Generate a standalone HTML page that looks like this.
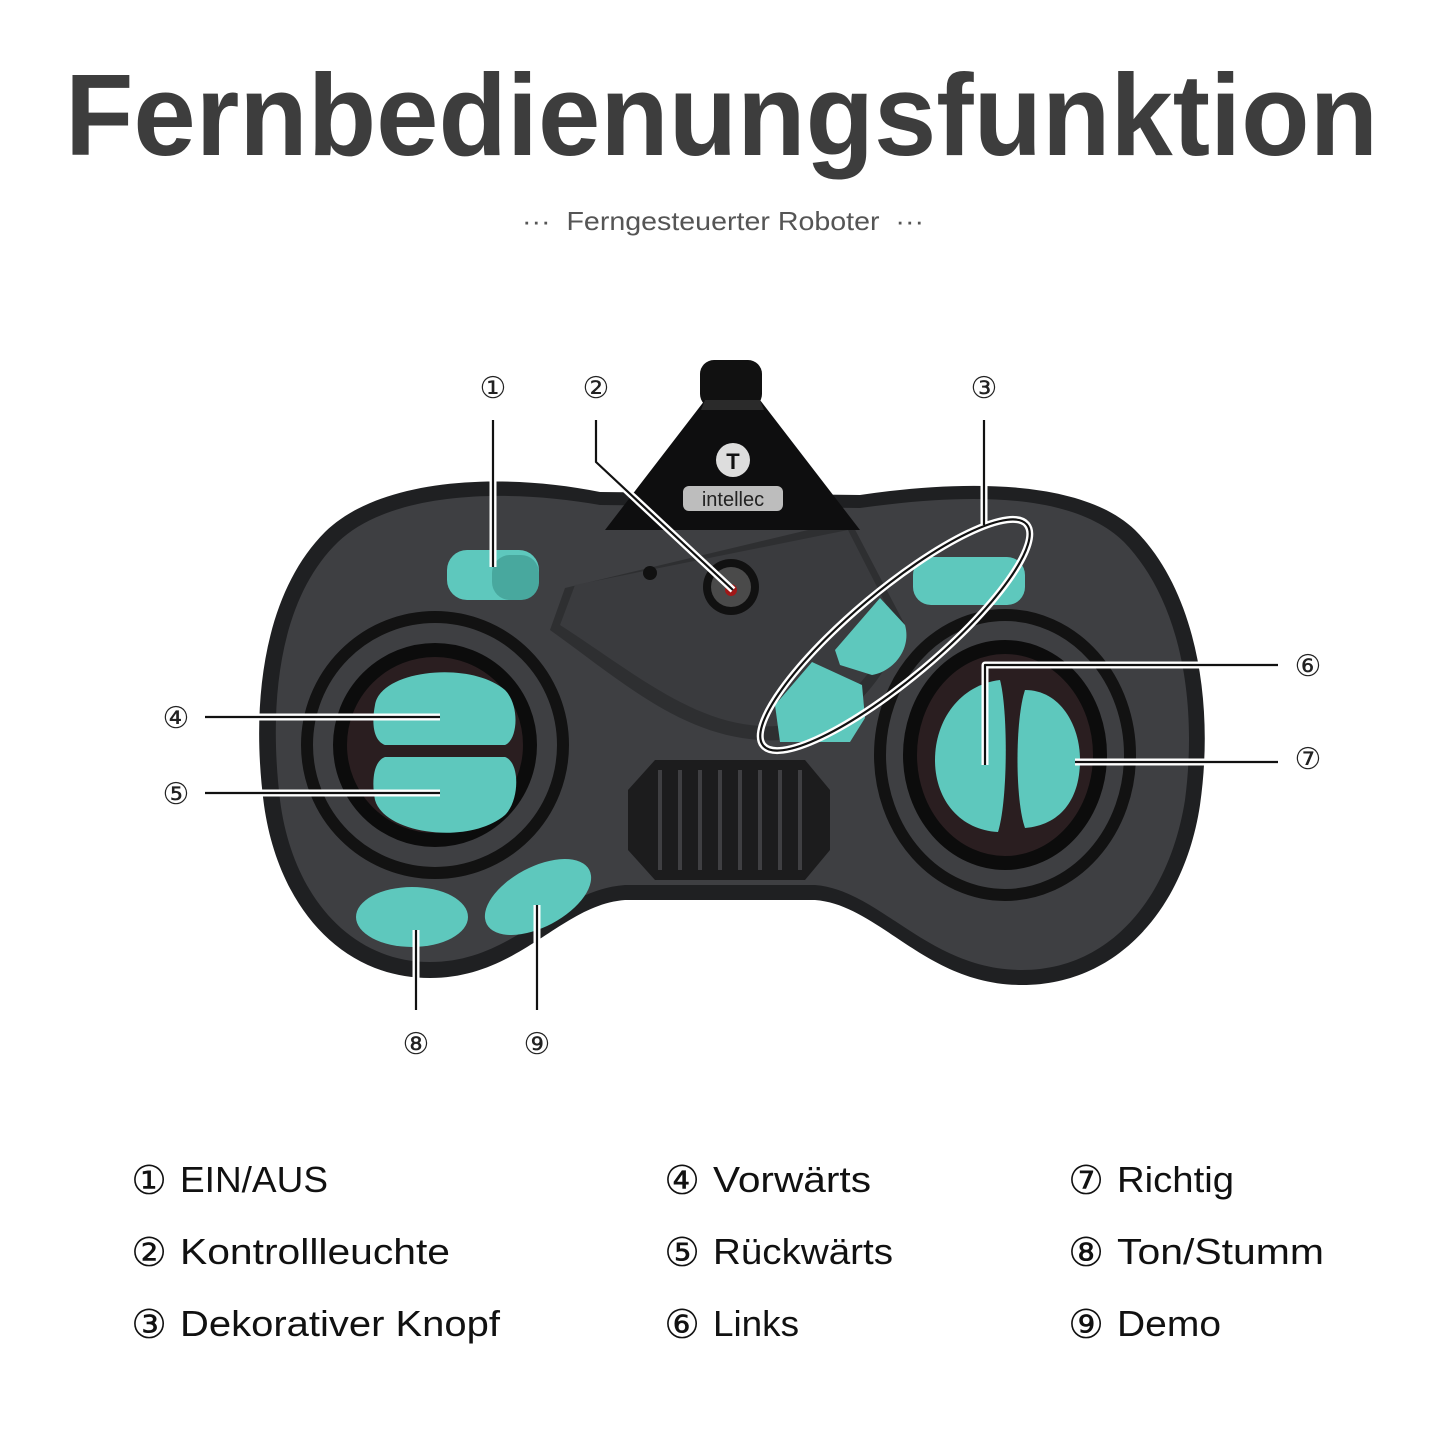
<!DOCTYPE html>
<html><head><meta charset="utf-8"><style>
html,body{margin:0;padding:0;background:#fff;width:1445px;height:1445px;overflow:hidden}
svg{display:block}
text{font-family:"Liberation Sans","DejaVu Sans",sans-serif}
</style></head><body>
<svg width="1445" height="1445" viewBox="0 0 1445 1445" xmlns="http://www.w3.org/2000/svg">
<text x="65" y="155" font-size="116" font-weight="bold" fill="#3d3d3d" textLength="1313" lengthAdjust="spacingAndGlyphs">Fernbedienungsfunktion</text>
<text x="522" y="230" font-size="26" fill="#555" textLength="402" lengthAdjust="spacingAndGlyphs">··· &#160;Ferngesteuerter Roboter &#160;···</text>

<!-- body -->
<path d="M600,492 C500,472 380,478 325,532 C265,592 250,700 264,805 C278,905 340,978 430,978 C520,978 560,905 625,900 L815,900 C880,905 925,985 1022,985 C1120,985 1185,905 1200,805 C1215,700 1195,590 1135,530 C1085,482 975,478 860,495 Z" fill="#1f2022"/>
<path d="M600,505 C505,488 390,492 338,542 C280,598 268,700 280,800 C292,895 350,962 430,962 C515,962 555,890 625,885 L815,885 C880,890 928,970 1022,970 C1112,970 1170,895 1185,800 C1198,700 1180,600 1124,542 C1075,494 975,492 860,508 Z" fill="#3e3f42"/>
<!-- center plate -->
<path d="M565,588 L850,520 L905,625 C880,700 820,745 760,740 C680,735 620,680 550,630 Z" fill="#2e2f31"/>
<path d="M575,585 L848,530 L895,622 C872,690 818,730 760,726 C690,722 630,670 560,625 Z" fill="#3a3b3e"/>
<!-- antenna -->
<rect x="700" y="360" width="62" height="48" rx="14" fill="#111"/>
<polygon points="705,400 760,400 860,530 605,530" fill="#0e0e0f"/>
<polygon points="705,400 760,400 764,410 701,410" fill="#2a2a2a"/>
<circle cx="733" cy="460" r="17" fill="#ddd"/>
<text x="733" y="469" font-size="22" font-weight="bold" fill="#111" text-anchor="middle">T</text>
<rect x="683" y="486" width="100" height="25" rx="6" fill="#bdbdbd"/>
<text x="733" y="506" font-size="20" fill="#222" text-anchor="middle">intellec</text>
<!-- LED -->
<circle cx="650" cy="573" r="7" fill="#111"/>
<circle cx="731" cy="587" r="28" fill="#111"/>
<circle cx="731" cy="587" r="20" fill="#4a4a4a"/>
<circle cx="731" cy="590" r="6" fill="#a01818"/>
<!-- left pad -->
<circle cx="435" cy="745" r="128" fill="none" stroke="#121212" stroke-width="12"/>
<circle cx="435" cy="745" r="95" fill="#2a1e20" stroke="#0c0c0c" stroke-width="14"/>
<path d="M375,705 C380,670 470,660 505,690 C520,705 518,740 505,745 L385,745 C372,740 372,720 375,705 Z" fill="#5ec8bd"/>
<path d="M385,757 L505,757 C520,762 520,800 505,815 C470,845 385,835 375,800 C372,785 372,762 385,757 Z" fill="#5ec8bd"/>
<!-- right pad -->
<ellipse cx="1005" cy="755" rx="125" ry="140" fill="none" stroke="#121212" stroke-width="12"/>
<ellipse cx="1005" cy="755" rx="95" ry="108" fill="#2a1e20" stroke="#0c0c0c" stroke-width="14"/>
<path d="M1000,680 C960,685 935,720 935,760 C935,800 960,830 998,832 C1008,800 1008,710 1000,680 Z" fill="#5ec8bd"/>
<path d="M1025,690 C1060,690 1080,725 1080,760 C1080,800 1060,825 1025,828 C1015,800 1015,720 1025,690 Z" fill="#5ec8bd"/>
<!-- small buttons -->
<rect x="447" y="550" width="92" height="50" rx="20" fill="#5ec8bd"/>
<rect x="492" y="555" width="47" height="45" rx="18" fill="#48a89e"/>
<rect x="913" y="557" width="112" height="48" rx="18" fill="#5ec8bd"/>
<path d="M835,650 L880,598 L905,625 C912,650 892,672 872,675 L840,665 Z" fill="#5ec8bd"/>
<path d="M775,705 L812,662 L862,685 L865,718 L850,742 L780,742 Z" fill="#5ec8bd"/>
<ellipse cx="412" cy="917" rx="56" ry="30" fill="#5ec8bd"/>
<ellipse cx="538" cy="897" rx="58" ry="30" fill="#5ec8bd" transform="rotate(-28 538 897)"/>
<!-- grille -->
<polygon points="655,760 805,760 830,790 830,850 805,880 655,880 628,850 628,790" fill="#1c1c1d"/>
<g stroke="#3f3f42" stroke-width="4">
<line x1="660" y1="770" x2="660" y2="870"/><line x1="680" y1="770" x2="680" y2="870"/><line x1="700" y1="770" x2="700" y2="870"/><line x1="720" y1="770" x2="720" y2="870"/><line x1="740" y1="770" x2="740" y2="870"/><line x1="760" y1="770" x2="760" y2="870"/><line x1="780" y1="770" x2="780" y2="870"/><line x1="800" y1="770" x2="800" y2="870"/>
</g>
<!-- callout lines -->
<g fill="none" stroke="#fff" stroke-width="7" stroke-linejoin="round">
<polyline points="493,420 493,567"/>
<polyline points="596,420 596,462 733,590"/>
<polyline points="984,420 984,525"/>
<ellipse cx="895" cy="635" rx="172" ry="44" transform="rotate(-40 895 635)"/>
<polyline points="205,717 440,717"/>
<polyline points="205,793 440,793"/>
<polyline points="1278,665 985,665 985,765"/>
<polyline points="1278,762 1075,762"/>
<polyline points="416,930 416,1010"/>
<polyline points="537,905 537,1010"/>
</g>
<g fill="none" stroke="#111" stroke-width="2.2" stroke-linejoin="round">
<polyline points="493,420 493,567"/>
<polyline points="596,420 596,462 733,590"/>
<polyline points="984,420 984,525"/>
<ellipse cx="895" cy="635" rx="172" ry="44" transform="rotate(-40 895 635)"/>
<polyline points="205,717 440,717"/>
<polyline points="205,793 440,793"/>
<polyline points="1278,665 985,665 985,765"/>
<polyline points="1278,762 1075,762"/>
<polyline points="416,930 416,1010"/>
<polyline points="537,905 537,1010"/>
</g>
<g font-size="30" fill="#222" text-anchor="middle" style="font-family:'DejaVu Sans',sans-serif">
<text x="493" y="398">①</text><text x="596" y="398">②</text><text x="984" y="398">③</text>
<text x="176" y="728">④</text><text x="176" y="804">⑤</text>
<text x="1308" y="676">⑥</text><text x="1308" y="769">⑦</text>
<text x="416" y="1054">⑧</text><text x="537" y="1054">⑨</text>
</g>
<!-- legend -->
<g font-size="36" fill="#111">
<g font-size="40" style="font-family:'DejaVu Sans',sans-serif" text-anchor="middle">
<text x="149" y="1194">①</text><text x="149" y="1266">②</text><text x="149" y="1338">③</text>
<text x="682" y="1194">④</text><text x="682" y="1266">⑤</text><text x="682" y="1338">⑥</text>
<text x="1086" y="1194">⑦</text><text x="1086" y="1266">⑧</text><text x="1086" y="1338">⑨</text>
</g>
<text x="180" y="1192" textLength="148" lengthAdjust="spacingAndGlyphs">EIN/AUS</text>
<text x="180" y="1264" textLength="270" lengthAdjust="spacingAndGlyphs">Kontrollleuchte</text>
<text x="180" y="1336" textLength="320" lengthAdjust="spacingAndGlyphs">Dekorativer Knopf</text>
<text x="713" y="1192" textLength="158" lengthAdjust="spacingAndGlyphs">Vorwärts</text>
<text x="713" y="1264" textLength="180" lengthAdjust="spacingAndGlyphs">Rückwärts</text>
<text x="713" y="1336" textLength="86" lengthAdjust="spacingAndGlyphs">Links</text>
<text x="1117" y="1192" textLength="117" lengthAdjust="spacingAndGlyphs">Richtig</text>
<text x="1117" y="1264" textLength="207" lengthAdjust="spacingAndGlyphs">Ton/Stumm</text>
<text x="1117" y="1336" textLength="104" lengthAdjust="spacingAndGlyphs">Demo</text>
</g>
</svg>
</body></html>
